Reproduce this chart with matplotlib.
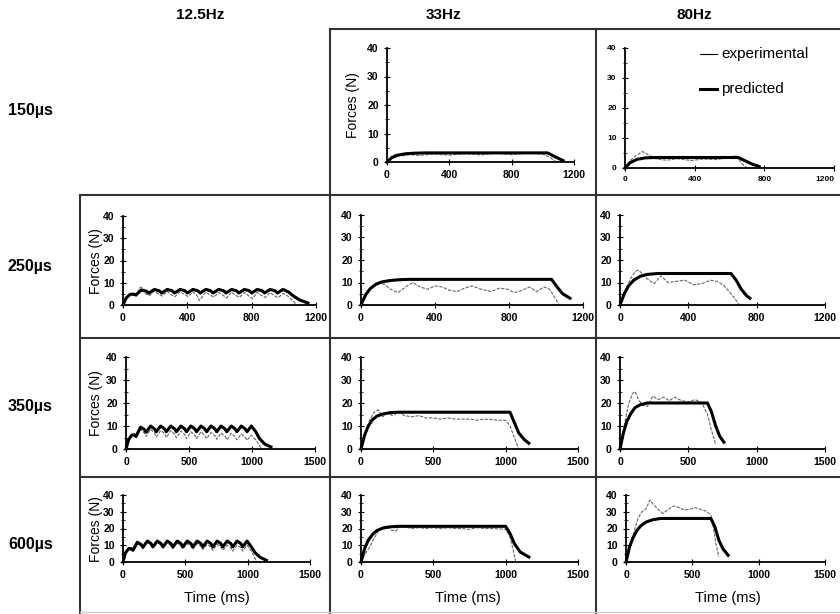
import matplotlib
matplotlib.use("Agg")
import matplotlib.pyplot as plt
from matplotlib.lines import Line2D

# figure size in pixels
W, H = 840, 614

col_titles = ["12.5Hz", "33Hz", "80Hz"]
row_titles = ["150\u00b5s", "250\u00b5s", "350\u00b5s", "600\u00b5s"]

# ---- data (time in ms, force in N) ----
# 150us, 33Hz
t_150_33_pred = [0, 30, 70, 120, 180, 250, 1030, 1080, 1130]
f_150_33_pred = [0, 1.5, 2.4, 2.9, 3.1, 3.2, 3.2, 1.8, 0.5]
t_150_33_exp = [0, 30, 60, 100, 150, 200, 300, 400, 500, 600, 700, 800, 900, 1000, 1050, 1080]
f_150_33_exp = [0, 2.0, 2.8, 2.2, 2.6, 2.3, 2.8, 2.4, 2.9, 2.5, 3.0, 2.6, 3.1, 2.8, 1.5, 0.2]

# 150us, 80Hz
t_150_80_pred = [0, 30, 70, 120, 180, 650, 690, 730, 770]
f_150_80_pred = [0, 1.8, 2.9, 3.4, 3.5, 3.5, 2.4, 1.3, 0.5]
t_150_80_exp = [0, 30, 60, 100, 140, 180, 240, 300, 380, 450, 520, 600, 640, 670, 700]
f_150_80_exp = [0, 2.5, 4.0, 5.5, 4.2, 3.0, 2.6, 3.1, 2.5, 3.0, 2.8, 3.4, 4.2, 1.5, 0.0]

# 250us, 12.5Hz
t_250_12_pred = [0, 20, 45, 65, 80, 115, 145, 160, 195, 225, 240, 275, 305, 320,
                 355, 385, 400, 435, 465, 480, 515, 545, 560, 595, 625, 640, 675,
                 705, 720, 755, 785, 800, 835, 865, 880, 915, 945, 960, 995, 1030,
                 1060, 1100, 1150]
f_250_12_pred = [0, 3.2, 4.8, 4.9, 4.5, 6.8, 6.2, 5.3, 7.0, 6.4, 5.4, 7.0, 6.4, 5.4,
                 7.0, 6.4, 5.4, 7.0, 6.4, 5.4, 7.0, 6.4, 5.4, 7.0, 6.4, 5.4, 7.0,
                 6.4, 5.4, 7.0, 6.4, 5.4, 7.0, 6.4, 5.4, 7.0, 6.4, 5.4, 7.0, 5.8,
                 4.0, 2.2, 0.9]
t_250_12_exp = [0, 20, 45, 70, 85, 100, 115, 140, 165, 195, 220, 245, 275, 300, 325,
                355, 380, 405, 435, 460, 475, 515, 540, 565, 595, 620, 645, 675, 700,
                725, 755, 780, 805, 835, 860, 885, 915, 940, 965, 995, 1030, 1060, 1080]
f_250_12_exp = [0, 3.5, 4.6, 4.3, 4.0, 7.5, 8.0, 5.0, 4.2, 6.3, 5.0, 4.0, 6.2, 4.6, 3.8,
                6.0, 4.8, 3.8, 5.9, 4.2, 2.0, 5.8, 4.5, 3.6, 5.6, 4.4, 3.2, 5.8, 4.3,
                3.5, 5.6, 4.2, 2.8, 5.7, 4.3, 3.4, 5.6, 4.2, 3.3, 5.2, 3.8, 1.5, 0.0]

# 250us, 33Hz
t_250_33_pred = [0, 25, 50, 80, 110, 150, 200, 260, 1030, 1060, 1090, 1130]
f_250_33_pred = [0, 4.5, 7.3, 9.2, 10.2, 10.8, 11.2, 11.4, 11.4, 8.0, 5.0, 3.0]
t_250_33_exp = [0, 30, 60, 100, 130, 160, 200, 240, 280, 320, 360, 400, 440, 480, 520,
                560, 600, 650, 700, 750, 790, 830, 870, 910, 950, 990, 1020, 1050, 1070]
f_250_33_exp = [0, 5.0, 8.0, 10.0, 9.0, 7.0, 5.5, 8.0, 10.0, 8.0, 7.0, 8.5, 8.0, 6.5, 6.0,
                7.5, 8.5, 7.0, 6.0, 7.5, 7.0, 5.5, 6.5, 8.0, 6.0, 8.0, 7.0, 3.0, 0.0]

# 250us, 80Hz
t_250_80_pred = [0, 25, 50, 80, 120, 160, 220, 650, 680, 710, 740, 760]
f_250_80_pred = [0, 5.0, 8.5, 11.0, 12.8, 13.6, 14.0, 14.0, 11.0, 7.0, 4.2, 3.0]
t_250_80_exp = [0, 30, 60, 90, 110, 140, 170, 200, 240, 280, 330, 380, 430, 480, 530,
                570, 610, 650, 680, 700]
f_250_80_exp = [0, 6.0, 11.5, 15.0, 15.5, 13.0, 11.0, 9.5, 13.0, 10.0, 10.5, 11.0, 9.0,
                9.5, 11.0, 10.5, 8.5, 5.0, 2.0, 0.0]

# 350us, 12.5Hz
t_350_12_pred = [0, 20, 45, 65, 80, 115, 145, 160, 195, 225, 240, 275, 305, 320,
                 355, 385, 400, 435, 465, 480, 515, 545, 560, 595, 625, 640, 675,
                 705, 720, 755, 785, 800, 835, 865, 880, 915, 945, 960, 995, 1030,
                 1060, 1100, 1150]
f_350_12_pred = [0, 4.0, 6.0, 6.2, 5.5, 9.5, 8.5, 7.3, 10.0, 8.8, 7.5, 10.0, 8.8, 7.5,
                 10.0, 8.8, 7.5, 10.0, 8.8, 7.5, 10.0, 8.8, 7.5, 10.0, 8.8, 7.5, 10.0,
                 8.8, 7.5, 10.0, 8.8, 7.5, 10.0, 8.8, 7.5, 10.0, 8.8, 7.5, 10.0, 7.5,
                 4.5, 2.2, 0.9]
t_350_12_exp = [0, 20, 45, 65, 80, 115, 145, 160, 195, 225, 240, 275, 305, 320,
                355, 385, 400, 435, 465, 480, 515, 545, 560, 595, 625, 640, 675,
                705, 720, 755, 785, 800, 835, 865, 880, 915, 945, 960, 995, 1030,
                1060, 1080]
f_350_12_exp = [0, 4.5, 6.0, 5.5, 5.0, 8.5, 7.0, 5.5, 8.5, 7.0, 5.2, 8.0, 6.8, 5.0,
                8.0, 6.5, 4.8, 7.8, 6.3, 4.5, 7.5, 6.0, 4.5, 7.5, 6.0, 4.5, 7.2,
                5.8, 4.2, 7.0, 5.6, 4.0, 6.8, 5.4, 4.0, 6.5, 5.2, 3.8, 6.0, 4.0,
                1.5, 0.0]

# 350us, 33Hz
t_350_33_pred = [0, 25, 50, 80, 110, 150, 200, 260, 1030, 1060, 1090, 1130, 1160]
f_350_33_pred = [0, 6.0, 10.0, 12.8, 14.3, 15.2, 15.8, 16.0, 16.0, 11.5, 7.0, 4.0, 2.5]
t_350_33_exp = [0, 30, 60, 90, 120, 150, 180, 220, 260, 300, 350, 400, 450, 500, 550,
                600, 650, 700, 750, 800, 850, 900, 950, 1000, 1030, 1060, 1090]
f_350_33_exp = [0, 7.0, 12.5, 16.0, 17.0, 14.0, 15.5, 14.5, 16.0, 14.5, 14.0, 14.5, 13.5,
                13.5, 13.0, 13.5, 13.0, 13.0, 13.0, 12.5, 13.0, 12.8, 12.5, 12.5, 10.0,
                5.0, 0.0]

# 350us, 80Hz
t_350_80_pred = [0, 25, 50, 80, 110, 150, 200, 640, 670, 700, 730, 760]
f_350_80_pred = [0, 7.0, 12.0, 15.5, 18.0, 19.3, 20.0, 20.0, 16.0, 10.0, 5.5, 3.0]
t_350_80_exp = [0, 30, 60, 90, 110, 140, 170, 200, 240, 280, 320, 360, 400, 450, 500,
                550, 600, 640, 670, 700]
f_350_80_exp = [0, 10.0, 19.0, 24.0, 25.0, 21.0, 19.0, 18.5, 23.0, 21.5, 22.5, 21.0,
                22.5, 21.0, 20.5, 21.5, 20.0, 15.0, 8.0, 2.0]

# 600us, 12.5Hz
t_600_12_pred = [0, 20, 45, 65, 80, 115, 145, 160, 195, 225, 240, 275, 305, 320,
                 355, 385, 400, 435, 465, 480, 515, 545, 560, 595, 625, 640, 675,
                 705, 720, 755, 785, 800, 835, 865, 880, 915, 945, 960, 995, 1030,
                 1060, 1100, 1150]
f_600_12_pred = [0, 5.5, 8.0, 8.0, 7.0, 11.8, 10.5, 8.8, 12.5, 11.0, 9.0, 12.5, 11.0, 9.0,
                 12.5, 11.0, 9.0, 12.5, 11.0, 9.0, 12.5, 11.0, 9.0, 12.5, 11.0, 9.0, 12.5,
                 11.0, 9.0, 12.5, 11.0, 9.0, 12.5, 11.0, 9.0, 12.5, 11.0, 9.0, 12.5, 9.0,
                 5.5, 2.8, 1.0]
t_600_12_exp = [0, 20, 45, 65, 80, 115, 145, 160, 195, 225, 240, 275, 305, 320,
                355, 385, 400, 435, 465, 480, 515, 545, 560, 595, 625, 640, 675,
                705, 720, 755, 785, 800, 835, 865, 880, 915, 945, 960, 995, 1030,
                1060, 1080]
f_600_12_exp = [0, 5.0, 7.5, 7.0, 6.5, 11.0, 9.5, 8.0, 12.0, 10.0, 8.5, 12.0, 10.0, 8.5,
                11.5, 9.8, 8.0, 11.5, 9.5, 8.0, 11.0, 9.5, 7.5, 11.0, 9.5, 7.5, 10.5,
                9.0, 7.0, 10.5, 9.0, 7.0, 10.0, 8.5, 6.5, 10.0, 8.5, 6.5, 10.0, 6.5,
                2.0, 0.0]

# 600us, 33Hz
t_600_33_pred = [0, 25, 50, 80, 110, 150, 200, 260, 1000, 1030, 1060, 1100, 1160]
f_600_33_pred = [0, 8.0, 13.0, 16.5, 18.8, 20.2, 21.0, 21.3, 21.3, 17.0, 11.0, 6.0, 3.0]
t_600_33_exp = [0, 30, 60, 90, 120, 150, 180, 210, 240, 270, 300, 350, 400, 450, 500,
                550, 600, 650, 700, 750, 800, 850, 900, 950, 1000, 1030, 1050, 1070]
f_600_33_exp = [0, 5.0, 9.0, 14.0, 18.5, 21.0, 21.5, 19.0, 18.5, 21.5, 21.0, 20.0, 20.5,
                20.0, 20.5, 19.8, 20.5, 20.0, 20.0, 19.5, 20.5, 20.0, 20.0, 19.8, 19.5,
                15.0, 8.0, 0.0]

# 600us, 80Hz
t_600_80_pred = [0, 25, 50, 80, 110, 150, 200, 260, 640, 670, 700, 730, 770]
f_600_80_pred = [0, 8.5, 14.0, 18.5, 21.5, 23.8, 25.2, 26.0, 26.0, 21.0, 13.0, 8.0, 4.0]
t_600_80_exp = [0, 30, 60, 90, 120, 150, 180, 210, 250, 280, 320, 360, 400, 440, 480,
                520, 560, 600, 640, 660, 680, 700]
f_600_80_exp = [0, 10.0, 18.0, 26.0, 30.0, 31.5, 37.0, 34.0, 31.0, 29.0, 31.5, 33.5,
                32.5, 31.0, 31.5, 32.5, 31.5, 30.5, 28.0, 20.0, 10.0, 3.0]

# ---- layout (pixel positions: x at t=0, x at t=xmax, y at 40 N, y at 0 N) ----
panels = [
    # row, col, x0, x1, ytop, ybot, xmax, xstep, labelsize, t_pred, f_pred, t_exp, f_exp
    (0, 1, 387, 574, 48, 162, 1200, 400, 7.5, t_150_33_pred, f_150_33_pred, t_150_33_exp, f_150_33_exp),
    (0, 2, 625, 834, 48, 168, 1200, 400, 6.0, t_150_80_pred, f_150_80_pred, t_150_80_exp, f_150_80_exp),
    (1, 0, 123, 316, 216, 305, 1200, 400, 7.5, t_250_12_pred, f_250_12_pred, t_250_12_exp, f_250_12_exp),
    (1, 1, 361, 583, 215, 305, 1200, 400, 7.5, t_250_33_pred, f_250_33_pred, t_250_33_exp, f_250_33_exp),
    (1, 2, 620, 825, 215, 305, 1200, 400, 7.5, t_250_80_pred, f_250_80_pred, t_250_80_exp, f_250_80_exp),
    (2, 0, 126, 315, 357, 449, 1500, 500, 7.5, t_350_12_pred, f_350_12_pred, t_350_12_exp, f_350_12_exp),
    (2, 1, 361, 578, 357, 449, 1500, 500, 7.5, t_350_33_pred, f_350_33_pred, t_350_33_exp, f_350_33_exp),
    (2, 2, 620, 825, 357, 449, 1500, 500, 7.5, t_350_80_pred, f_350_80_pred, t_350_80_exp, f_350_80_exp),
    (3, 0, 123, 310, 495, 562, 1500, 500, 7.5, t_600_12_pred, f_600_12_pred, t_600_12_exp, f_600_12_exp),
    (3, 1, 361, 578, 495, 562, 1500, 500, 7.5, t_600_33_pred, f_600_33_pred, t_600_33_exp, f_600_33_exp),
    (3, 2, 626, 825, 495, 562, 1500, 500, 7.5, t_600_80_pred, f_600_80_pred, t_600_80_exp, f_600_80_exp),
]

plt.rcParams['font.family'] = ['Liberation Sans', 'DejaVu Sans']

fig = plt.figure(figsize=(W / 100, H / 100), dpi=100)
fig.patch.set_facecolor('white')


def fx(px):
    return px / W


def fy(py):
    return 1 - py / H


for (r, c, x0, x1, yt, yb, xmax, xstep, lsize, tp, fp, te, fe) in panels:
    ax = fig.add_axes([fx(x0), fy(yb), (x1 - x0) / W, (yb - yt) / H])
    ax.plot(te, fe, color='#666666', lw=0.8, ls=(0, (3, 1.2)), solid_capstyle='butt')
    ax.plot(tp, fp, color='black', lw=2.2)
    ax.set_xlim(0, xmax)
    ax.set_ylim(0, 40)
    ax.set_xticks(range(0, xmax + 1, xstep))
    ax.set_yticks([0, 10, 20, 30, 40])
    ax.set_yticks([5, 15, 25, 35], minor=True)
    for s in ['top', 'right']:
        ax.spines[s].set_visible(False)
    for s in ['left', 'bottom']:
        ax.spines[s].set_linewidth(1.3)
    ax.tick_params(direction='inout', length=4, width=0.8, labelsize=lsize, pad=4)
    ax.tick_params(which='minor', direction='inout', length=2.5, width=0.6)
    for lab in ax.get_xticklabels() + ax.get_yticklabels():
        lab.set_fontweight('bold')
    # the last tick label of the top-right cell runs into the page edge
    if x1 > 830:
        ax.get_xticklabels()[-1].set_horizontalalignment('right')
    ax.patch.set_alpha(0)
    for ln in ax.lines:
        ln.set_clip_on(False)

# y axis labels
for (xp, yp) in [(353, 105), (96, 261), (96, 403), (96, 529)]:
    fig.text(fx(xp), fy(yp), "Forces (N)", rotation=90, ha='center', va='center', fontsize=10)

# x axis labels
for xp in [217, 468, 728]:
    fig.text(fx(xp), fy(598), "Time (ms)", ha='center', va='center', fontsize=10.5)

# column and row titles
for xp, txt in zip([200, 444, 694], col_titles):
    fig.text(fx(xp), fy(15), txt, ha='center', va='center', fontsize=11, fontweight='bold')
for yp, txt in zip([111, 266, 407, 545], row_titles):
    fig.text(fx(8), fy(yp), txt, ha='left', va='center', fontsize=11.5, fontweight='bold')

# legend (drawn by hand in the 80Hz / 150us cell)
fig.add_artist(Line2D([fx(700), fx(717)], [fy(54), fy(54)], color='black', lw=0.8))
fig.add_artist(Line2D([fx(700), fx(717)], [fy(89), fy(89)], color='black', lw=2.2))
fig.text(fx(721), fy(54), "experimental", ha='left', va='center', fontsize=11)
fig.text(fx(721), fy(89), "predicted", ha='left', va='center', fontsize=11)

# table grid lines
grid_col = '#333333'
segments = [
    ((330, 29), (840, 29)),
    ((80, 195), (840, 195)),
    ((80, 338), (840, 338)),
    ((80, 477), (840, 477)),
    ((330, 29), (330, 614)),
    ((596, 29), (596, 614)),
    ((80, 195), (80, 614)),
]
for (a, b) in segments:
    fig.add_artist(Line2D([fx(a[0]), fx(b[0])], [fy(a[1]), fy(b[1])], color=grid_col, lw=1.5))
fig.add_artist(Line2D([fx(80), fx(840)], [fy(612), fy(612)], color='#cccccc', lw=1.0))

fig.savefig("out.png", dpi=100)
